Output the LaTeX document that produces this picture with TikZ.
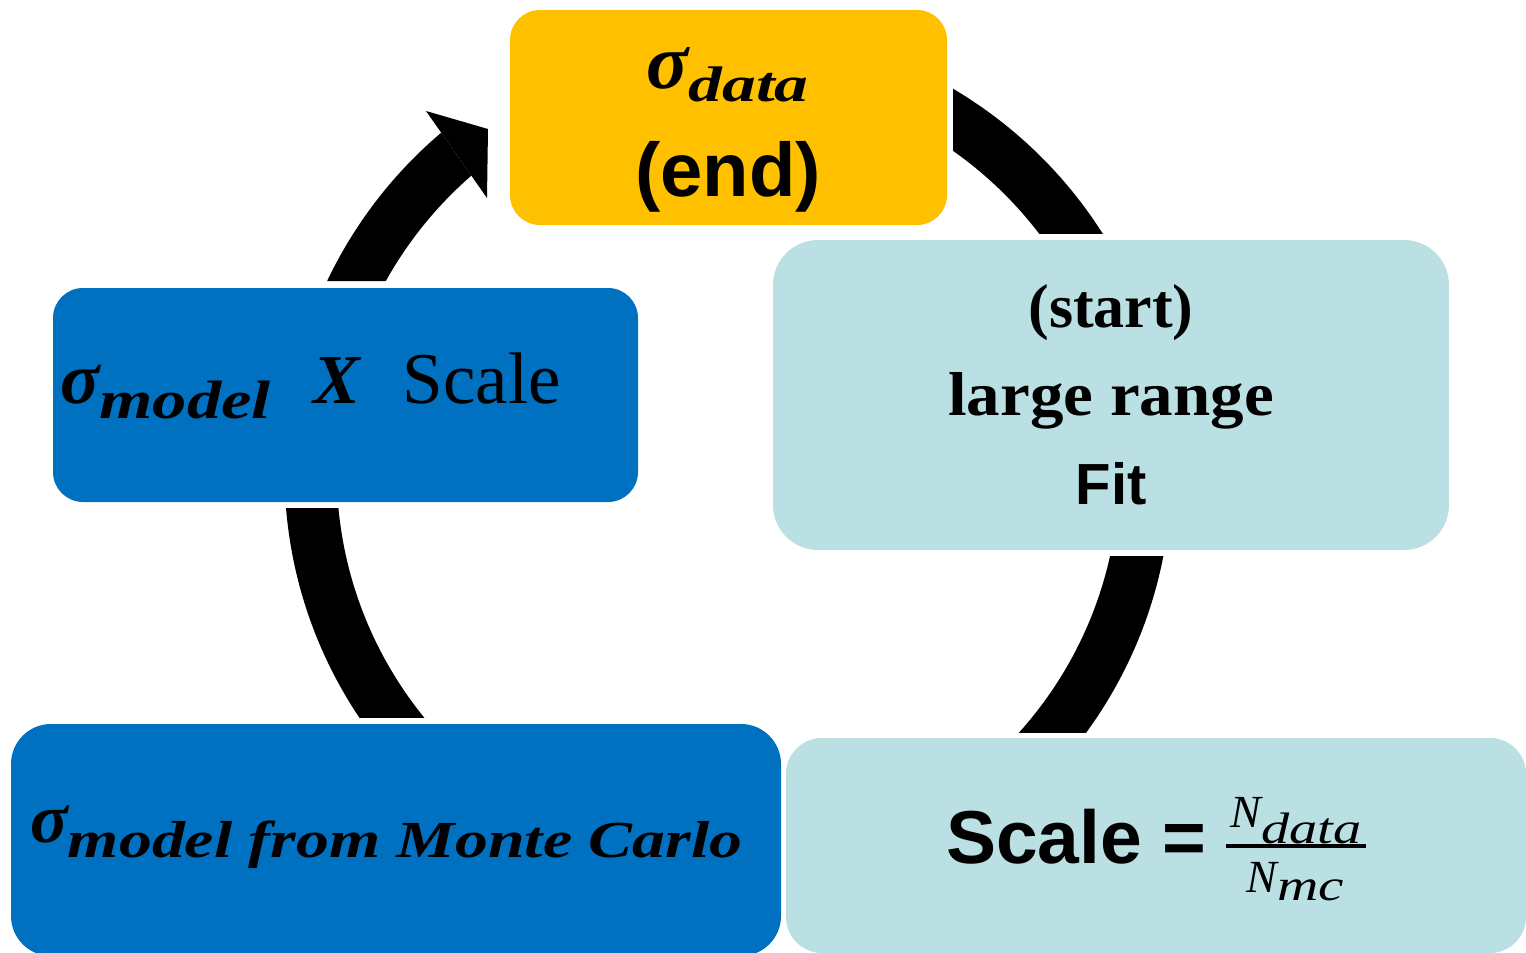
\documentclass[tikz,border=0pt]{standalone}
\usepackage{graphicx}
\usepackage{fontspec}
\setmainfont{Liberation Serif}
\newfontfamily\labelsans{Liberation Sans}
\definecolor{cyclegold}{HTML}{FFC000}
\definecolor{cycleblue}{HTML}{0070C0}
\definecolor{cycleteal}{HTML}{BAE0E3}
% thick ring on which the cycle arrows lie
\newcommand\cyclering{\fill[black,even odd rule] (ctr) circle[radius=443.5pt] (ctr) circle[radius=391.3pt];}
% lowered, widened italic subscript: size, x-stretch, drop, text
\newcommand\subtext[4]{\raisebox{-#3}{\fontsize{#1}{#1}\selectfont\scalebox{#2}[1]{#4}}}
\begin{document}
\begin{tikzpicture}[x=1pt,y=-1pt,
  stage/.style={rounded corners=#1, inner sep=0pt, draw=none},
  txt/.style={inner sep=0pt, text=black}]
\useasboundingbox (0,0) rectangle (1526,953);
\clip (0,0) rectangle (1526,953);
\coordinate (ctr) at (728,471);

% stage boxes
\node[stage=30pt, fill=cyclegold, minimum width=437pt, minimum height=215pt] (endbox) at (728.5,117.5) {};
\node[stage=45pt, fill=cycleteal, minimum width=676pt, minimum height=310pt] (startbox) at (1111,395) {};
\node[stage=30pt, fill=cycleblue, minimum width=585pt, minimum height=214pt] (multbox) at (345.5,395) {};
\node[stage=40pt, fill=cycleblue, minimum width=770pt, minimum height=232pt] (mcbox) at (396,840) {};
\node[stage=36pt, fill=cycleteal, minimum width=740pt, minimum height=215pt] (ratiobox) at (1156,845.5) {};

% ring segments between the boxes
\begin{scope}
  \clip (953,0) rectangle (1526,233);
  \cyclering
\end{scope}
\begin{scope}
  \clip (728,556) rectangle (1526,732);
  \cyclering
\end{scope}
\begin{scope}
  \clip (0,508) rectangle (728,717);
  \cyclering
\end{scope}
\begin{scope}
  \clip (670,459) -- (334.5,-19.5) -- (0,-19.5) -- (0,281) -- (600,281) -- cycle;
  \cyclering
\end{scope}
% arrow head into the end box
\fill[black] (426,111) coordinate (headout) -- (488,129) coordinate (headtip) -- (487,198) coordinate (headin) -- cycle;

% texts
\node[txt, anchor=base] (endsym) at (727.5,88)
  {\bfseries\itshape\fontsize{78}{80}\selectfont σ\subtext{50}{1.35}{13pt}{data}};
\node[txt, anchor=base] (endword) at (728,196) {\labelsans\bfseries\fontsize{76}{80}\selectfont (end)};
\node[txt, anchor=base] (startword) at (1111,327) {\bfseries\fontsize{62}{65}\selectfont (start)};
\node[txt, anchor=base] (rangeword) at (1111,415) {\bfseries\fontsize{62}{65}\selectfont\scalebox{1.08}[1]{large range}};
\node[txt, anchor=base] (fitword) at (1111,504) {\labelsans\bfseries\fontsize{58}{60}\selectfont Fit};
\node[txt, anchor=base west] (multtext) at (60,403)
  {\fontsize{73}{76}\selectfont{\bfseries\itshape σ\subtext{54}{1.27}{15pt}{model}}\hspace{43pt}{\bfseries\itshape\fontsize{70}{74}\selectfont X}\hspace{42pt}Scale};
\node[txt, anchor=base west] (mctext) at (30,842)
  {\bfseries\itshape\fontsize{70}{74}\selectfont σ\subtext{52}{1.265}{15pt}{model from Monte Carlo}};
\node[txt, anchor=base west] (ratiotext) at (946,863) {\labelsans\bfseries\fontsize{75}{80}\selectfont Scale =};
\node[txt, anchor=base] (fracnum) at (1296,827)
  {\itshape\fontsize{46}{48}\selectfont N\subtext{44}{1.28}{16pt}{data}};
\node[txt, anchor=base] (fracden) at (1295,892)
  {\itshape\fontsize{46}{48}\selectfont N\subtext{44}{1.3}{8pt}{mc}};
\coordinate (barleft) at (1226,846);
\coordinate (barright) at (1366,846);
\draw[line width=4pt] (barleft) -- (barright);
\end{tikzpicture}
\end{document}
